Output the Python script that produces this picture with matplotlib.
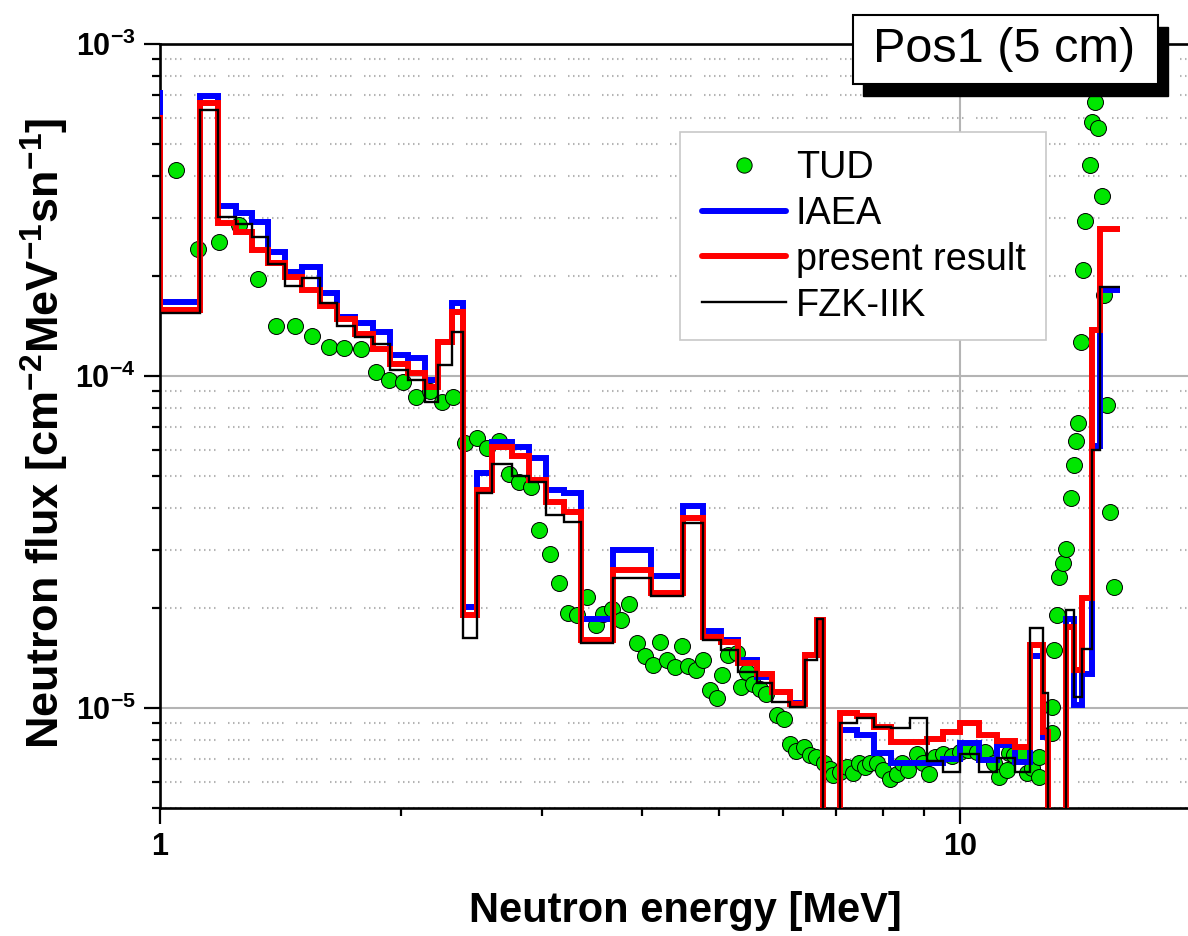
import numpy as np
import matplotlib
matplotlib.use('Agg')
import matplotlib.pyplot as plt
from matplotlib.lines import Line2D
from matplotlib.patches import Rectangle
from matplotlib.ticker import LogLocator, NullFormatter

plt.rcParams['font.family'] = ['Liberation Sans', 'DejaVu Sans']
plt.rcParams['mathtext.fontset'] = 'custom'
plt.rcParams['mathtext.rm'] = 'Liberation Sans'
plt.rcParams['mathtext.bf'] = 'Liberation Sans:bold'
plt.rcParams['mathtext.it'] = 'Liberation Sans:italic'
plt.rcParams['mathtext.default'] = 'regular'
plt.rcParams['lines.scale_dashes'] = False

# ---------------- data ----------------
bin_edges = [0.972, 1.000, 1.122, 1.182, 1.245, 1.303, 1.365, 1.433, 1.505, 1.585,
             1.664, 1.753, 1.846, 1.939, 2.042, 2.144, 2.226, 2.317, 2.393, 2.491,
             2.600, 2.754, 2.892, 3.038, 3.199, 3.359, 3.684, 4.110, 4.507, 4.773,
             5.026, 5.279, 5.576, 5.821, 6.131, 6.401, 6.626, 6.741, 7.079, 7.434,
             7.807, 8.198, 8.660, 9.095, 9.523, 10.00, 10.56, 11.13, 11.71, 12.23,
             12.70, 12.88, 13.57, 13.88, 14.21, 14.62, 14.96, 15.85]

iaea = [7.10e-4, 1.67e-4, 6.99e-4, 3.26e-4, 3.10e-4, 2.90e-4, 2.37e-4, 2.06e-4, 2.13e-4, 1.78e-4,
        1.51e-4, 1.44e-4, 1.36e-4, 1.16e-4, 1.13e-4, 9.73e-5, 1.27e-4, 1.66e-4, 2.02e-5, 5.09e-5,
        6.34e-5, 6.12e-5, 5.65e-5, 4.53e-5, 4.43e-5, 1.86e-5, 2.99e-5, 2.50e-5, 4.06e-5, 1.71e-5,
        1.60e-5, 1.40e-5, 1.24e-5, 1.12e-5, 1.035e-5, 1.44e-5, 1.84e-5, 1e-7, 8.59e-6, 8.29e-6,
        7.31e-6, 6.81e-6, 6.84e-6, 6.81e-6, 7.01e-6, 7.83e-6, 6.97e-6, 7.74e-6, 6.89e-6, 1.43e-5,
        8.20e-6, 1e-7, 1.86e-5, 1.02e-5, 1.27e-5, 6.16e-5, 1.82e-4]

present = [5.98e-4, 1.58e-4, 6.63e-4, 2.88e-4, 2.72e-4, 2.40e-4, 2.19e-4, 1.99e-4, 1.82e-4, 1.62e-4,
           1.49e-4, 1.34e-4, 1.21e-4, 1.09e-4, 1.02e-4, 9.29e-5, 1.27e-4, 1.56e-4, 1.91e-5, 4.53e-5,
           6.12e-5, 5.74e-5, 4.86e-5, 4.18e-5, 3.90e-5, 1.60e-5, 2.60e-5, 2.22e-5, 3.73e-5, 1.64e-5,
           1.58e-5, 1.37e-5, 1.27e-5, 1.12e-5, 1.03e-5, 1.44e-5, 1.84e-5, 1e-7, 9.64e-6, 9.48e-6,
           8.79e-6, 7.92e-6, 7.92e-6, 8.05e-6, 8.48e-6, 9.03e-6, 8.29e-6, 7.97e-6, 7.64e-6, 1.55e-5,
           8.48e-6, 1e-7, 1.76e-5, 1.30e-5, 2.14e-5, 1.38e-4, 2.77e-4]

fzk = [6.00e-4, 1.55e-4, 6.33e-4, 3.01e-4, 2.87e-4, 2.63e-4, 2.17e-4, 1.87e-4, 1.97e-4, 1.66e-4,
       1.41e-4, 1.31e-4, 1.25e-4, 1.04e-4, 9.73e-5, 8.37e-5, 1.08e-4, 1.36e-4, 1.62e-5, 4.43e-5,
       5.42e-5, 5.01e-5, 4.80e-5, 3.81e-5, 3.64e-5, 1.57e-5, 2.47e-5, 2.17e-5, 3.61e-5, 1.60e-5,
       1.50e-5, 1.28e-5, 1.19e-5, 1.04e-5, 1.01e-5, 1.40e-5, 1.85e-5, 1e-7, 8.99e-6, 9.31e-6,
       8.79e-6, 8.69e-6, 9.31e-6, 6.94e-6, 6.43e-6, 7.27e-6, 6.43e-6, 7.06e-6, 6.43e-6, 1.74e-5,
       1.11e-5, 1e-7, 1.97e-5, 1.08e-5, 1.51e-5, 6.00e-5, 1.86e-4]

tud_energy = [1.047, 1.115, 1.186, 1.256, 1.325, 1.396, 1.476, 1.549, 1.628, 1.698,
              1.782, 1.862, 1.931, 2.012, 2.091, 2.174, 2.252, 2.327, 2.406, 2.491,
              2.564, 2.654, 2.731, 2.811, 2.905, 2.980, 3.070, 3.151, 3.236, 3.321,
              3.421, 3.508, 3.582, 3.668, 3.764, 3.857, 3.944, 4.040, 4.134, 4.217,
              4.303, 4.403, 4.497, 4.575, 4.681, 4.776, 4.865, 4.965, 5.041, 5.133,
              5.259, 5.324, 5.417, 5.511, 5.618, 5.726, 5.897, 6.021, 6.122, 6.229,
              6.383, 6.494, 6.607, 6.754, 6.879, 6.939, 7.079, 7.217, 7.355, 7.466,
              7.607, 7.718, 7.868, 8.019, 8.175, 8.334, 8.455, 8.617, 8.828, 8.997,
              9.154, 9.306, 9.530, 9.763, 10.00, 10.24, 10.49, 10.75, 11.01, 11.17,
              11.44, 11.52, 11.68, 11.94, 12.12, 12.29, 12.53, 12.56, 13.02, 13.04,
              13.12, 13.21, 13.31, 13.45, 13.57, 13.77, 13.87, 13.96, 14.05, 14.16,
              14.26, 14.33, 14.54, 14.61, 14.75, 14.85, 15.04, 15.14, 15.28, 15.40,
              15.55]

tud_flux = [4.17e-4, 2.42e-4, 2.53e-4, 2.86e-4, 1.96e-4, 1.41e-4, 1.41e-4, 1.32e-4, 1.226e-4, 1.217e-4,
            1.21e-4, 1.03e-4, 9.73e-5, 9.59e-5, 8.67e-5, 9.04e-5, 8.35e-5, 8.67e-5, 6.27e-5, 6.50e-5,
            6.09e-5, 6.37e-5, 5.07e-5, 4.79e-5, 4.63e-5, 3.44e-5, 2.91e-5, 2.38e-5, 1.93e-5, 1.91e-5,
            2.16e-5, 1.78e-5, 1.92e-5, 1.99e-5, 1.84e-5, 2.06e-5, 1.57e-5, 1.43e-5, 1.35e-5, 1.58e-5,
            1.40e-5, 1.33e-5, 1.54e-5, 1.34e-5, 1.30e-5, 1.40e-5, 1.13e-5, 1.075e-5, 1.26e-5, 1.44e-5,
            1.46e-5, 1.16e-5, 1.28e-5, 1.18e-5, 1.14e-5, 1.10e-5, 9.56e-6, 9.25e-6, 7.79e-6, 7.42e-6,
            7.63e-6, 7.22e-6, 7.12e-6, 6.81e-6, 6.57e-6, 6.28e-6, 6.43e-6, 6.66e-6, 6.36e-6, 6.81e-6,
            6.65e-6, 6.81e-6, 6.81e-6, 6.51e-6, 6.10e-6, 6.33e-6, 6.81e-6, 6.51e-6, 7.27e-6, 6.81e-6,
            6.33e-6, 7.13e-6, 7.27e-6, 7.17e-6, 7.38e-6, 7.47e-6, 7.38e-6, 7.38e-6, 6.81e-6, 6.21e-6,
            6.51e-6, 7.31e-6, 7.22e-6, 7.31e-6, 6.36e-6, 6.58e-6, 6.21e-6, 7.13e-6, 8.39e-6, 1.01e-5,
            1.50e-5, 1.91e-5, 2.48e-5, 2.73e-5, 3.01e-5, 4.29e-5, 5.39e-5, 6.37e-5, 7.20e-5, 1.27e-4,
            2.09e-4, 2.94e-4, 4.32e-4, 5.83e-4, 6.70e-4, 5.60e-4, 3.49e-4, 1.75e-4, 8.18e-5, 3.90e-5,
            2.32e-5]

legend_labels = ['TUD', 'IAEA', 'present result', 'FZK-IIK']
x_ticks = [1, 10]
x_ticklabels = ['1', '10']
y_ticks = [1e-5, 1e-4, 1e-3]
y_ticklabels = [r'$10^{-5}$', r'$10^{-4}$', r'$10^{-3}$']

# ---------------- figure ----------------
W, H = 1188, 936
fig = plt.figure(figsize=(W / 100, H / 100), dpi=100)
ax = fig.add_axes([160 / W, 128 / H, 1041 / W, 764 / H])
ax.set_xscale('log')
ax.set_yscale('log')

green = '#00e600'
ax.plot(tud_energy, tud_flux, ls='none', marker='o', ms=11.5, mfc=green,
        mec='black', mew=0.7, zorder=3)
ax.stairs(iaea, bin_edges, baseline=None, color='#0000ff', lw=4.3, zorder=4)
ax.stairs(present, bin_edges, baseline=None, color='#ff0000', lw=4.3, zorder=5)
ax.stairs(fzk, bin_edges, baseline=None, color='black', lw=1.7, zorder=6)

ax.set_xlim(1, 20)
ax.set_ylim(5e-6, 1e-3)

ax.set_xticks(x_ticks, labels=x_ticklabels, fontweight='bold', fontsize=22)
ax.set_yticks(y_ticks, labels=y_ticklabels, fontweight='bold', fontsize=22)
ax.xaxis.set_minor_locator(LogLocator(base=10, subs=np.arange(2, 10)))
ax.yaxis.set_minor_locator(LogLocator(base=10, subs=np.arange(2, 10)))
ax.xaxis.set_minor_formatter(NullFormatter())
ax.yaxis.set_minor_formatter(NullFormatter())
ax.tick_params(which='major', direction='out', length=11.5, width=1.6, pad=6,
               top=False, right=False)
ax.tick_params(which='minor', direction='out', length=5.8, width=1.6,
               top=False, right=False)

gcol = '#b4b4b4'
ax.xaxis.grid(True, which='major', color=gcol, lw=1.5)
ax.yaxis.grid(True, which='major', color=gcol, lw=1.5)
dots = (0, (1.08, 2.52, 1.08, 2.52, 1.08, 2.52, 1.08, 2.52, 1.08, 9.0))
ax.yaxis.grid(True, which='minor', color=gcol, lw=1.5, linestyle=dots)
ax.set_axisbelow(True)

for s in ax.spines.values():
    s.set_linewidth(1.9)
    s.set_color('black')

fig.text(685 / W, 1 - 922 / H, 'Neutron energy [MeV]', fontsize=30,
         fontweight='bold', ha='center', va='baseline')
fig.text(45 / W, 1 - 433 / H, r'Neutron flux [cm$^{-2}$MeV$^{-1}$sn$^{-1}$]',
         fontsize=32.5, fontweight='bold', rotation=90, ha='center', va='center')

# legend: frame drawn as its own box (inside the axes), entries placed inside it
ax.add_patch(Rectangle((680 / W, 1 - 340 / H), 366 / W, 208 / H, transform=fig.transFigure,
                       facecolor='white', edgecolor='#c8c8c8', lw=1.2, zorder=8,
                       clip_on=False))
handles = [
    Line2D([], [], ls='none', marker='o', ms=11, mfc=green, mec='black', mew=0.7),
    Line2D([], [], color='#0000ff', lw=4.3, solid_capstyle='round'),
    Line2D([], [], color='#ff0000', lw=4.3, solid_capstyle='round'),
    Line2D([], [], color='black', lw=1.7),
]
leg = ax.legend(handles, legend_labels, loc='upper left',
                bbox_to_anchor=((702 - 160) / 1041, (808 - 150) / 764),
                fontsize=27.3, handlelength=2.22, handletextpad=0.25, labelspacing=0.26,
                borderpad=0, borderaxespad=0, frameon=False)
leg.set_zorder(10)

# Pos1 label box with shadow
fig.add_artist(Rectangle((863 / W, 1 - 96 / H), 305 / W, 69 / H, transform=fig.transFigure,
                         facecolor='black', edgecolor='black', zorder=20))
fig.add_artist(Rectangle((853 / W, 1 - 84 / H), 305 / W, 69 / H, transform=fig.transFigure,
                         facecolor='white', edgecolor='black', lw=1.5, zorder=21))
fig.text(1004 / W, 1 - 50 / H, 'Pos1 (5 cm)', fontsize=35, ha='center', va='center', zorder=22)

fig.savefig('out.png', dpi=100)
